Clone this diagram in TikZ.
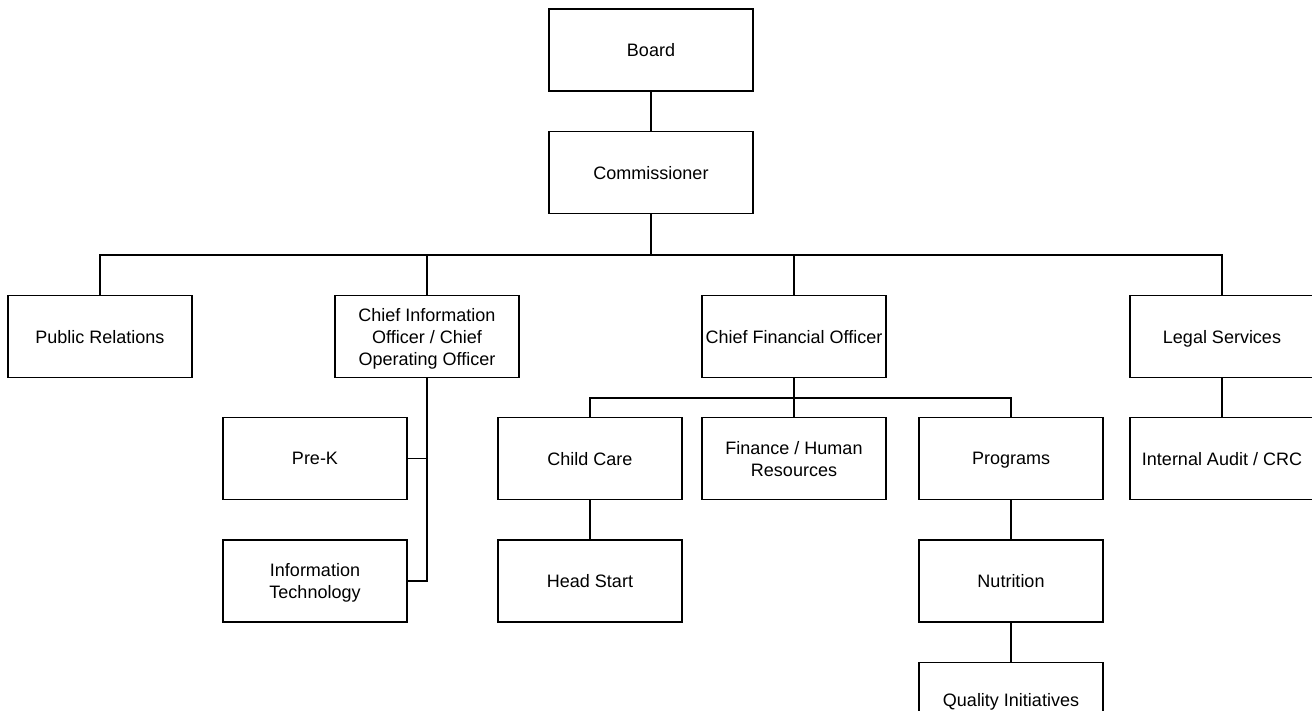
\documentclass[tikz,border=0pt]{standalone}
\usepackage{fontspec}
\setmainfont{Liberation Sans}
\usepackage{tikz}

\tikzset{
	unit/.style = {draw, line width=1.2pt, minimum width=184pt, minimum height=82pt,
		inner sep=0pt, align=center, text depth=0pt, font=\fontsize{18}{22}\selectfont},
	topunit/.style = {unit, minimum width=204pt},
	link/.style = {line width=1.2pt}
}

\begin{document}
\begin{tikzpicture}[x=1pt, y=-1pt]
	\useasboundingbox (0,0) rectangle (1312,710);
	
	% Top
	\node[topunit] (board) at (651,50) {Board};
	\node[topunit] (comm) at (651,172.5) {Commissioner};
	
	% First level
	\node[unit] (pr) at (100,336.5) {Public Relations};
	\node[unit] (cio) at (427,336.5) {Chief Information\\Officer / Chief\\Operating Officer};
	\node[unit] (cfo) at (794,336.5) {Chief Financial Officer};
	\node[unit] (legal) at (1222,336.5) {Legal Services};
	
	% Under CIO
	\node[unit] (prek) at (315,458.5) {Pre-K};
	\node[unit] (it) at (315,581) {Information\\Technology};
	
	% Under CFO
	\node[unit] (cc) at (590,458.5) {Child Care};
	\node[unit] (fin) at (794,458.5) {Finance / Human\\Resources};
	\node[unit] (prog) at (1011,458.5) {Programs};
	\node[unit] (hs) at (590,581) {Head Start};
	\node[unit] (nut) at (1011,581) {Nutrition};
	\node[unit, minimum height=74pt, anchor=north] (qi) at (1011,662) {Quality Initiatives};
	
	% Under Legal
	\node[unit] (audit) at (1222,458.5) {Internal Audit / CRC};
	
	% Connectors
	\coordinate (bus) at (651,255);
	\coordinate (cfobus) at (794,398);
	\draw[link] (board) -- (comm);
	\draw[link] (comm) -- (bus);
	\draw[link] (bus) -| (pr.north);
	\draw[link] (bus) -| (cio.north);
	\draw[link] (bus) -| (cfo.north);
	\draw[link] (bus) -| (legal.north);
	\draw[link] (cio.south) |- (prek.east);
	\draw[link] (cio.south) |- (it.east);
	\draw[link] (cfo) -- (fin);
	\draw[link] (cfobus) -| (cc.north);
	\draw[link] (cfobus) -| (prog.north);
	\draw[link] (cc) -- (hs);
	\draw[link] (prog) -- (nut);
	\draw[link] (nut) -- (qi);
	\draw[link] (legal) -- (audit);
\end{tikzpicture}
\end{document}
